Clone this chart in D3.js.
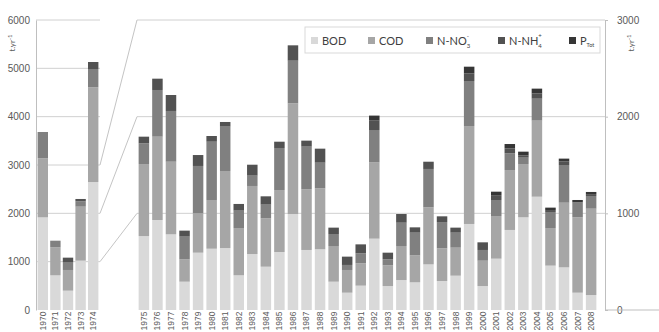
<!DOCTYPE html>
<html><head><meta charset="utf-8">
<script src="https://cdn.jsdelivr.net/npm/d3@7"></script>
<style>body{margin:0;background:#fff}svg{display:block;font-family:Lato,"Liberation Sans",sans-serif}</style>
</head><body><svg id="c" width="659" height="332"></svg>
<script>
const yearsLeft = ["1970","1971","1972","1973","1974"];
const yearsRight = ["1975","1976","1977","1978","1979","1980","1981","1982","1983","1984","1985","1986","1987","1988","1989","1990","1991","1992","1993","1994","1995","1996","1997","1998","1999","2000","2001","2002","2003","2004","2005","2006","2007","2008"];
const seriesNames = ["BOD","COD","N-NO3","N-NH4","PTot"];
const BOD = [1917,717,400,1021,2648, 765,931,783,293,593,634,641,359,579,448,600,993,621,628,293,179,252,738,248,310,286,472,300,355,890,248,531,828,959,1172,459,441,179,155];
const COD = [1221,580,428,1117,1959, 745,862,751,231,407,504,797,489,704,500,641,1145,627,631,369,235,231,789,214,352,279,590,338,290,1013,262,441,620,551,787,389,669,780,893];
const NO3 = [545,137,165,110,379, 214,483,525,235,490,603,459,180,107,142,435,441,442,265,124,52,103,335,62,241,235,397,272,155,466,111,166,173,66,227,166,390,155,131];
const NH4 = [0,0,90,49,145, 69,117,165,62,113,59,48,69,113,86,65,159,62,145,66,86,93,97,69,90,55,75,59,52,79,79,50,51,24,55,20,36,0,20];
const PTot = [0,0,0,0,0, 0,0,0,0,0,0,0,0,0,0,0,0,0,0,0,0,0,52,0,0,0,0,0,0,69,0,36,45,38,49,25,30,24,22];
const leftTicks = [0,1000,2000,3000,4000,5000,6000];
const rightTicks = [0,1000,2000,3000];
const zoomLinks = [1000,2000,3000];
const colors = ["#d9d9d9","#a6a6a6","#808080","#525252","#363636"];

const years = yearsLeft.concat(yearsRight);
const rows = years.map((y,i)=>({year:y,"BOD":BOD[i],"COD":COD[i],"N-NO3":NO3[i],"N-NH4":NH4[i],"PTot":PTot[i]}));
const stack = d3.stack().keys(seriesNames)(rows);

const svg = d3.select("#c");
const yL = d3.scaleLinear([0,6000],[310,20]);
const yR = d3.scaleLinear([0,3000],[310,20]);
const xL = d3.scaleBand(yearsLeft,[36,100]).paddingInner(0.175).paddingOuter(0.127);
const xR = d3.scaleBand(yearsRight,[137,598]).paddingInner(0.225).paddingOuter(0.12);
const leftEnd = 100, rightStart = 137, rightAxisX = 605;
const grid = "#d0d0d0";

// gridlines
svg.append("g").selectAll("line").data(leftTicks.filter(d=>d>0)).join("line")
  .attr("x1",36).attr("x2",leftEnd).attr("y1",d=>yL(d)).attr("y2",d=>yL(d))
  .attr("stroke",grid).attr("stroke-width",1);
svg.append("g").selectAll("line").data(rightTicks.filter(d=>d>0)).join("line")
  .attr("x1",rightStart).attr("x2",rightAxisX).attr("y1",d=>yR(d)).attr("y2",d=>yR(d))
  .attr("stroke",grid).attr("stroke-width",1);
// zoom link diagonals
svg.append("g").selectAll("line").data(zoomLinks).join("line")
  .attr("x1",leftEnd).attr("y1",d=>yL(d)).attr("x2",rightStart).attr("y2",d=>yR(d))
  .attr("stroke","#c4c4c4").attr("stroke-width",1);

// bars
const isLeft = y => yearsLeft.includes(y);
svg.append("g").selectAll("g").data(stack).join("g").attr("fill",(d,i)=>colors[i])
  .selectAll("rect").data(d=>d).join("rect")
  .attr("x",d=>isLeft(d.data.year)?xL(d.data.year):xR(d.data.year))
  .attr("width",d=>isLeft(d.data.year)?xL.bandwidth():xR.bandwidth())
  .attr("y",d=>(isLeft(d.data.year)?yL:yR)(d[1]))
  .attr("height",d=>{const s=isLeft(d.data.year)?yL:yR;return s(d[0])-s(d[1]);});

// left axis
const axL = svg.append("g").attr("transform","translate(36,0)")
  .call(d3.axisLeft(yL).tickValues(leftTicks).tickSize(0).tickPadding(6).tickFormat(d3.format("d")));
axL.select(".domain").attr("stroke","#bfbfbf");
axL.selectAll("text").attr("fill","#595959").attr("font-size","10px");

// right axis
const axR = svg.append("g").attr("transform",`translate(${rightAxisX},0)`)
  .call(d3.axisRight(yR).tickValues(rightTicks).tickSize(3).tickSizeOuter(0).tickPadding(9).tickFormat(d3.format("d")));
axR.select(".domain").attr("stroke","#bfbfbf");
axR.selectAll(".tick line").attr("stroke","#bfbfbf");
axR.selectAll("text").attr("fill","#595959").attr("font-size","10px");
svg.append("line").attr("x1",rightAxisX).attr("x2",659).attr("y1",yR(0)).attr("y2",yR(0)).attr("stroke","#bfbfbf");

// x axes
function xAxis(scale){
  const g = svg.append("g").attr("transform","translate(0,310)")
    .call(d3.axisBottom(scale).tickSize(0).tickPadding(0));
  g.select(".domain").remove();
  g.selectAll("text").attr("fill","#595959").attr("font-size","8.5px")
    .attr("text-anchor","end").attr("transform","rotate(-90)")
    .attr("x",-1.5).attr("y",0).attr("dy","0.35em");
}
xAxis(xL); xAxis(xR);

// axis titles
function unitTitle(x,y){
  const t = svg.append("text").attr("transform",`translate(${x},${y}) rotate(-90)`)
    .attr("text-anchor","middle").attr("font-size","8px").attr("fill","#595959");
  t.append("tspan").text("t.yr");
  t.append("tspan").attr("dy","-3").attr("font-size","6px").text("-1");
}
unitTitle(15,43); unitTitle(634,43);

// legend
const lg = svg.append("g");
lg.append("rect").attr("x",305).attr("y",27).attr("width",295).attr("height",26)
  .attr("fill","#fff").attr("stroke","#d9d9d9");
const legendX = [311,368,426,498,569];
const legendLabels = [
  [["BOD",0,null]],
  [["COD",0,null]],
  [["N-NO",0,null],["3",3,"6px"],["-",-7,"6px"]],
  [["N-NH",0,null],["4",3,"6px"],["+",-7,"6px"]],
  [["P",0,null],["Tot",2,"5.5px"]]
];
legendX.forEach((x,i)=>{
  lg.append("rect").attr("x",x).attr("y",37).attr("width",7).attr("height",7).attr("fill",colors[i]);
  const t = lg.append("text").attr("x",x+11).attr("y",44.5).attr("font-size","11px").attr("fill","#404040");
  let prev = 0;
  legendLabels[i].forEach(([s,dy,fs],j)=>{
    const ts = t.append("tspan").text(s).attr("dy",dy-prev);
    if(fs) ts.attr("font-size",fs);
    if(j===2) ts.attr("dx",-3.5);
    prev = dy;
  });
});
</script></body></html>
